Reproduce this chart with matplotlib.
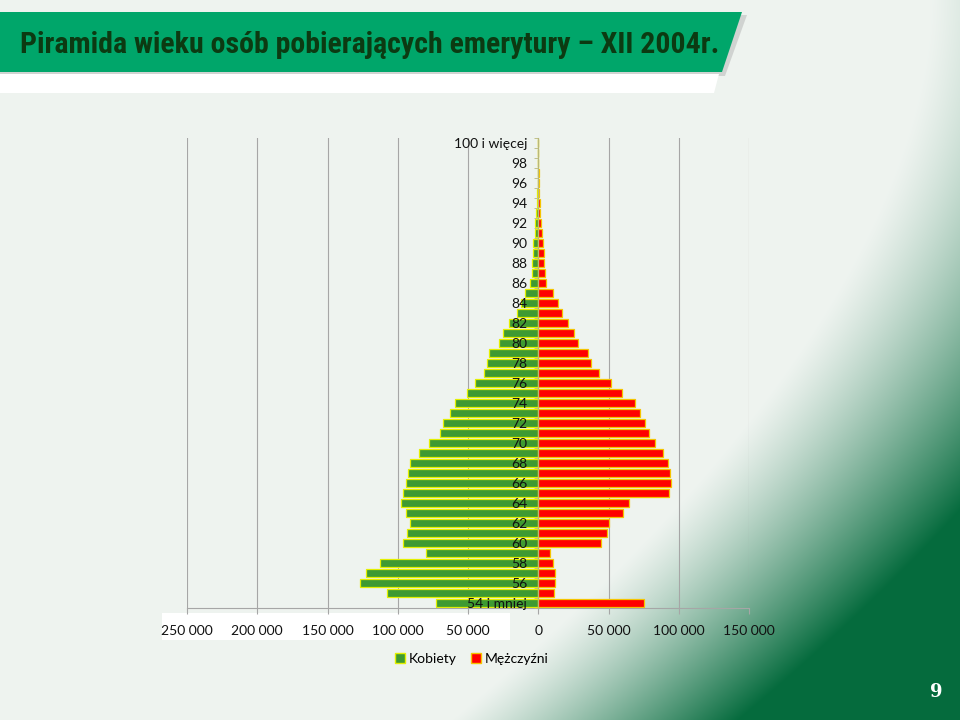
import numpy as np
import matplotlib
matplotlib.use("Agg")
import matplotlib.pyplot as plt
from matplotlib import font_manager
from matplotlib.patches import Polygon, Rectangle, Patch
from matplotlib.ticker import FuncFormatter, FixedLocator

plt.rcParams['font.family'] = ['Lato', 'DejaVu Sans']

# age groups, bottom to top
ages = ["54 i mniej"] + [str(a) for a in range(55, 100)] + ["100 i więcej"]

# women (left side), men (right side)
kobiety = [72500, 108000, 127000, 122500, 112500, 80000, 96500, 93500, 91000, 94000,
           97500, 96000, 94000, 92500, 91000, 85000, 78000, 70000, 67500, 62500,
           59500, 50500, 45000, 38500, 36500, 35000, 28000, 25000, 20500, 15000,
           12500, 9500, 5800, 4800, 4300, 3800, 3400, 2600, 2200, 1600,
           1100, 700, 450, 300, 200, 120, 80]
mezczyzni = [75000, 11500, 12000, 12000, 10500, 8500, 45000, 49000, 50000, 60000,
             64500, 93000, 94500, 94000, 92000, 89000, 83000, 78500, 76000, 72500,
             68700, 59800, 52000, 43000, 37700, 35300, 28200, 25600, 21300, 16600,
             14200, 10300, 5500, 5000, 4300, 4000, 3400, 2600, 2000, 1400,
             900, 500, 300, 200, 120, 80, 50]

title = "Piramida wieku osób pobierających emerytury – XII 2004r."

GREEN = "#3E9A32"
RED = "#FF0000"

# narrower face for the title if one is installed
names = {f.name for f in font_manager.fontManager.ttflist}
title_font = 'Lato'
for cand in ['Liberation Sans Narrow', 'Roboto Condensed', 'Open Sans Condensed',
             'DejaVu Sans Condensed', 'Noto Sans Condensed']:
    if cand in names:
        title_font = cand
        break

fig = plt.figure(figsize=(9.6, 7.2), dpi=100)

# background: light grey-green with dark green sweep in the bottom right
bg = fig.add_axes([0, 0, 1, 1], zorder=-10)
W, H = 960, 720
xx, yy = np.meshgrid(np.linspace(0, 1, W), np.linspace(0, 1, H))
start = 0.97 - 0.5 * yy ** 1.8
w = np.clip((xx - start) / 0.3, 0, 1) ** 1.2
light = np.array([0.935, 0.955, 0.94])
dark = np.array([0.02, 0.42, 0.24])
img = light[None, None, :] * (1 - w[..., None]) + dark[None, None, :] * w[..., None]
bg.imshow(img, extent=[0, W, H, 0], aspect='auto')
bg.set_xlim(0, W)
bg.set_ylim(H, 0)
bg.axis('off')

# title banner
bg.add_patch(Polygon([(0, 15), (747, 15), (725, 76), (0, 76)], closed=True,
                     facecolor="#9a9a9a", alpha=0.35, edgecolor='none'))
bg.add_patch(Polygon([(0, 74), (719, 74), (714, 93), (0, 93)], closed=True,
                     facecolor="white", edgecolor='none'))
bg.add_patch(Polygon([(0, 12), (742, 12), (722, 72), (0, 72)], closed=True,
                     facecolor="#00A66A", edgecolor='none'))
t = bg.text(20, 45, title, fontsize=22, fontweight='bold', color="#0C3A12",
            va='center', ha='left', family=[title_font, 'DejaVu Sans'])
fig.canvas.draw()
bb = t.get_window_extent()
t.set_fontsize(22 * 698 / bb.width)

# white box behind the left tick labels
bg.add_patch(Rectangle((162, 613), 348, 27, facecolor='white', edgecolor='none'))

# page number
bg.text(936, 692, "9", fontsize=13, fontweight='bold', color='white',
        family='DejaVu Serif', ha='center', va='center')

# chart
ax = fig.add_axes([187 / 960, 1 - 608 / 720, 562 / 960, 470 / 720])
ax.patch.set_alpha(0)
y = np.arange(len(ages))
ax.barh(y, -np.array(kobiety), height=0.84, color=GREEN, edgecolor="#E4F000",
        linewidth=0.9, zorder=2)
ax.barh(y, mezczyzni, height=0.84, color=RED, edgecolor="#F5C400",
        linewidth=0.9, zorder=2)

ax.set_xlim(-250000, 150000)
ax.set_ylim(-0.5, len(ages) - 0.5)
ax.set_xticks(np.arange(-250000, 150001, 50000))
ax.xaxis.set_major_formatter(FuncFormatter(lambda v, p: f"{abs(int(v)):,}".replace(",", " ")))
ax.xaxis.grid(True, color="#A6A6A6", linewidth=0.8)
ax.xaxis.set_zorder(0.5)
ax.yaxis.set_zorder(5)

ax.set_yticks(y)
ax.set_yticklabels([a if i % 2 == 0 else "" for i, a in enumerate(ages)])
ax.yaxis.set_minor_locator(FixedLocator(np.arange(-0.5, len(ages), 1.0)))
ax.tick_params(axis='y', which='major', length=0, pad=8, labelsize=10, colors="#111111")
ax.tick_params(axis='y', which='minor', length=3, color="#B8B87A")
ax.tick_params(axis='x', length=4, color="#A6A6A6", pad=8, labelsize=10, labelcolor="#111111")

ax.spines['left'].set_position(('data', 0))
ax.spines['left'].set_color("#B8B87A")
ax.spines['left'].set_zorder(3)
ax.spines['bottom'].set_color("#A6A6A6")
ax.spines['top'].set_visible(False)
ax.spines['right'].set_visible(False)

handles = [Patch(facecolor=GREEN, edgecolor="#E4F000", label="Kobiety"),
           Patch(facecolor=RED, edgecolor="#F5C400", label="Mężczyźni")]
fig.legend(handles=handles, loc='center', bbox_to_anchor=(472 / 960, 1 - 659 / 720),
           ncol=2, frameon=False, fontsize=10, handlelength=0.7, handleheight=0.7,
           handletextpad=0.3, columnspacing=1.0)

fig.savefig("out.png", dpi=100)
